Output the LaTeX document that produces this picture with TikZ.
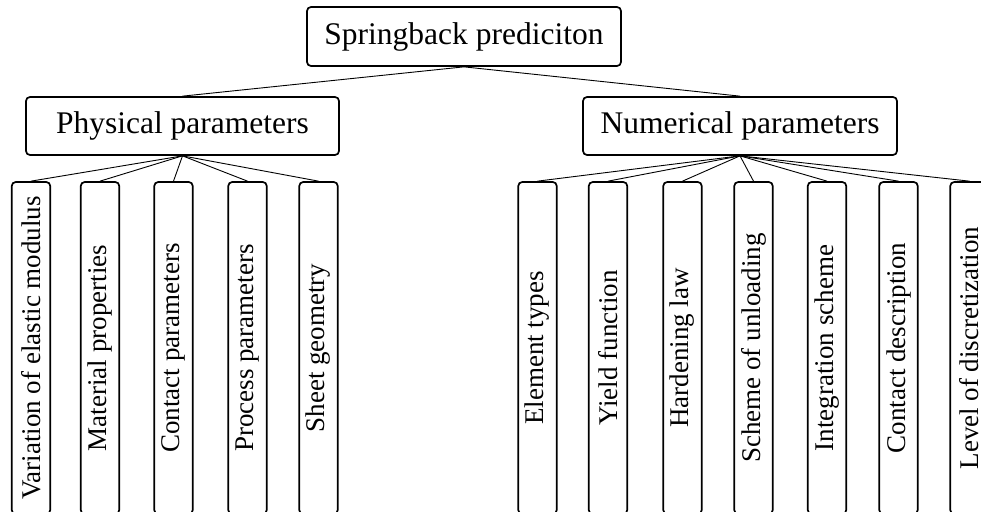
\documentclass[tikz,border=0pt]{standalone}
\usepackage{fontspec}
\usepackage{graphicx}
\setmainfont{Liberation Serif}
\begin{document}
\begin{tikzpicture}[x=1pt,y=-1pt,
  box/.style={draw, line width=1.7pt, rounded corners=4pt, inner sep=0pt, align=center},
  headbox/.style={box, minimum width=313pt, minimum height=58pt, font=\fontsize{31.5}{31.5}\selectfont},
  leafbox/.style={box, minimum width=38.5pt, minimum height=332pt, font=\fontsize{27}{27}\selectfont},
  link/.style={line width=0.9pt}]
\useasboundingbox (0,0) rectangle (981,511);
\clip (0,0) rectangle (981,511);
\node[headbox, minimum width=314pt, minimum height=59pt] (root) at (464,36.5) {Springback prediciton};
\node[headbox] (phys) at (182.5,126) {Physical parameters};
\node[headbox, minimum width=314pt] (num) at (740,126) {Numerical parameters};
% physical children
\node[leafbox] (p1) at (31,348) {\rotatebox{90}{Variation of elastic modulus}};
\node[leafbox] (p2) at (100,348) {\rotatebox{90}{Material properties}};
\node[leafbox] (p3) at (173.5,348) {\rotatebox{90}{Contact parameters}};
\node[leafbox] (p4) at (247.5,348) {\rotatebox{90}{Process parameters}};
\node[leafbox] (p5) at (318.5,348) {\rotatebox{90}{Sheet geometry}};
% numerical children
\node[leafbox] (n1) at (537.5,348) {\rotatebox{90}{Element types}};
\node[leafbox] (n2) at (608,348) {\rotatebox{90}{Yield function}};
\node[leafbox] (n3) at (682.5,348) {\rotatebox{90}{Hardening law}};
\node[leafbox] (n4) at (753.5,348) {\rotatebox{90}{Scheme of unloading}};
\node[leafbox] (n5) at (827,348) {\rotatebox{90}{Integration scheme}};
\node[leafbox] (n6) at (898.5,348) {\rotatebox{90}{Contact description}};
\node[leafbox] (n7) at (969.5,348) {\rotatebox{90}{Level of discretization}};
% connectors
\draw[link] (root.south) -- (phys.north);
\draw[link] (root.south) -- (num.north);
\foreach \c in {p1,p2,p3,p4,p5}{\draw[link] (phys.south) -- (\c.north);}
\foreach \c in {n1,n2,n3,n4,n5,n6,n7}{\draw[link] (num.south) -- (\c.north);}
\end{tikzpicture}
\end{document}
